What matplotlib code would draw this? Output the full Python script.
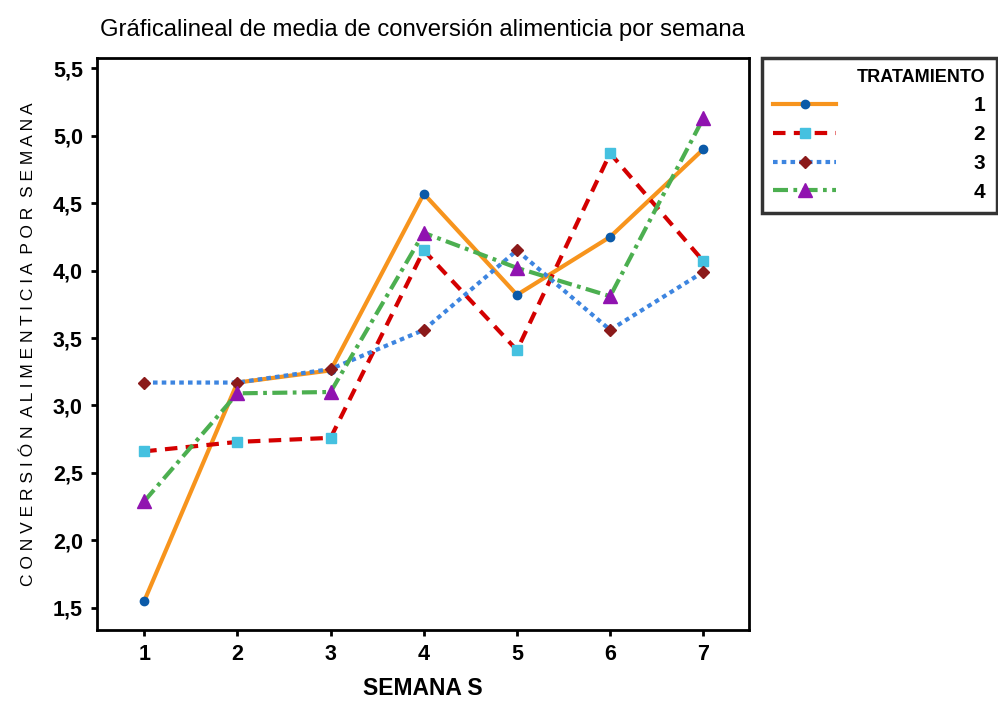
import matplotlib
matplotlib.use('Agg')
import matplotlib.pyplot as plt

plt.rcParams['font.family'] = ['Liberation Sans', 'DejaVu Sans']

semanas = [1, 2, 3, 4, 5, 6, 7]
trat1 = [1.55, 3.17, 3.26, 4.57, 3.82, 4.25, 4.90]
trat2 = [2.66, 2.73, 2.76, 4.15, 3.41, 4.87, 4.07]
trat3 = [3.17, 3.17, 3.27, 3.56, 4.15, 3.56, 3.99]
trat4 = [2.29, 3.09, 3.10, 4.28, 4.02, 3.81, 5.13]
etiquetas = ['1', '2', '3', '4']
yticks = [1.5, 2.0, 2.5, 3.0, 3.5, 4.0, 4.5, 5.0, 5.5]

fig = plt.figure(figsize=(9.98, 7.04), dpi=100)
ax = fig.add_axes([0.0969, 0.105, 0.6536, 0.8126])

lw = 3.0
l1, = ax.plot(semanas, trat1, color='#F7941D', lw=lw, ls='-', marker='o', ms=6,
              mfc='#0B5AA8', mec='#0B5AA8')
l2, = ax.plot(semanas, trat2, color='#D40000', lw=lw, ls=(0, (3, 2)), marker='s', ms=6.5,
              mfc='#45C1E0', mec='#45C1E0')
l3, = ax.plot(semanas, trat3, color='#3D85E0', lw=lw, ls=(0, (1.1, 1.0)), marker='D', ms=6.5,
              mfc='#8B1A1A', mec='#8B1A1A')
l4, = ax.plot(semanas, trat4, color='#4CAF50', lw=lw, ls=(0, (3.6, 1.3, 0.9, 1.3)), marker='^', ms=10,
              mfc='#9013B0', mec='#9013B0')

ax.set_xlim(0.49, 7.49)
ax.set_ylim(1.335, 5.576)
ax.set_xticks(semanas)
ax.set_xticklabels([str(s) for s in semanas], fontsize=15.5, fontweight='bold')
ax.set_yticks(yticks)
ax.set_yticklabels([f'{v:.1f}'.replace('.', ',') for v in yticks], fontsize=15.5, fontweight='bold')
ax.tick_params(direction='out', length=4, width=2, pad=6)
for s in ax.spines.values():
    s.set_linewidth(2)

ax.set_xlabel('SEMANA S', fontsize=16.5, fontweight='bold', labelpad=9)
ax.set_ylabel('C O N V E R S I Ó N  A L I M E N T I C I A  P O R  S E M A N A', fontsize=12.5, labelpad=12)
fig.text(0.423, 0.958, 'Gráficalineal de media de conversión alimenticia por semana',
         ha='center', va='center', fontsize=17.2)

leg = fig.legend([l1, l2, l3, l4], etiquetas, title='TRATAMIENTO',
                 loc='upper left', bbox_to_anchor=(0.7635, 0.9176),
                 prop={'weight': 'bold', 'size': 15},
                 title_fontproperties={'weight': 'bold', 'size': 13},
                 handlelength=3.0, handletextpad=6.6, labelspacing=0.47,
                 borderpad=0.55, borderaxespad=0, fancybox=False, alignment='right',
                 frameon=True)
leg.get_frame().set_edgecolor('black')
leg.get_frame().set_linewidth(2.5)

fig.savefig('out.png', dpi=100)
